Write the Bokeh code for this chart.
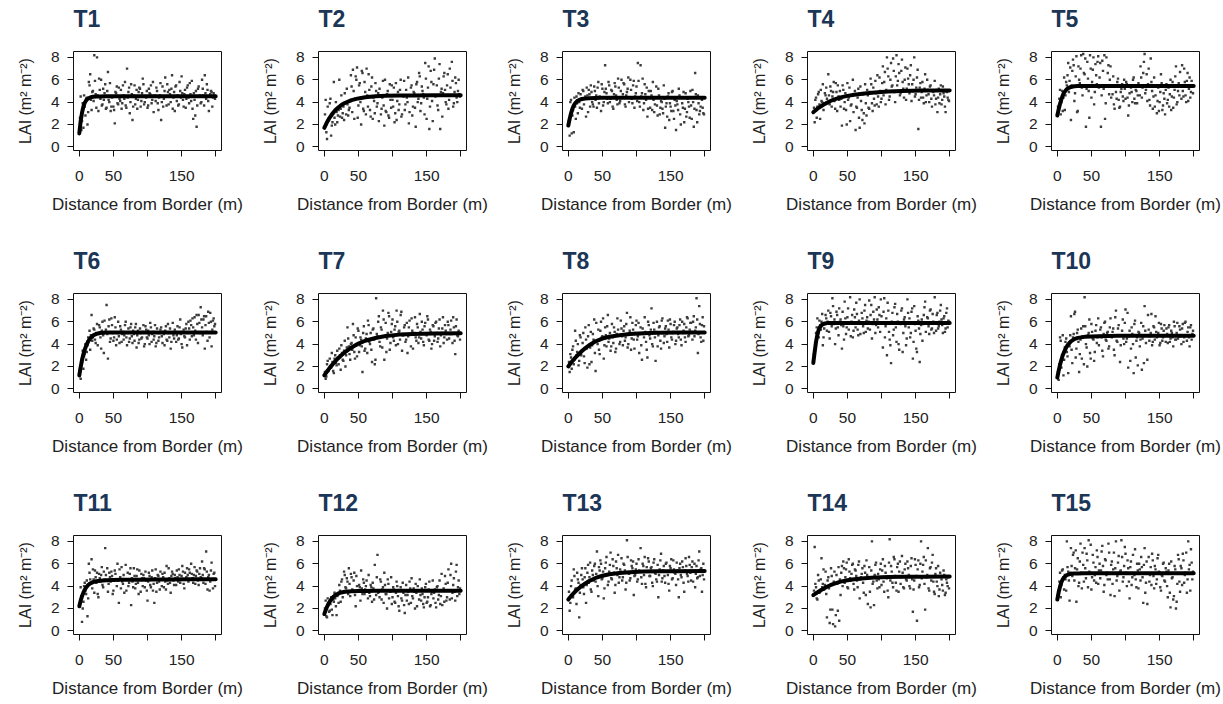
from bokeh.plotting import figure
from bokeh.layouts import gridplot
from bokeh.models import Range1d, FixedTicker, Title
from bokeh.embed import file_html
from bokeh.resources import INLINE

# ---------------- data ----------------
DIST = [0, 2, 4, 6, 8, 10, 12, 14, 16, 18, 20, 22, 24, 26, 28, 30, 32, 34, 36, 38,
        40, 42, 44, 46, 48, 50, 52, 54, 56, 58, 60, 62, 64, 66, 68, 70, 72, 74, 76, 78,
        80, 82, 84, 86, 88, 90, 92, 94, 96, 98, 100, 102, 104, 106, 108, 110, 112, 114, 116, 118,
        120, 122, 124, 126, 128, 130, 132, 134, 136, 138, 140, 142, 144, 146, 148, 150, 152, 154, 156, 158,
        160, 162, 164, 166, 168, 170, 172, 174, 176, 178, 180, 182, 184, 186, 188, 190, 192, 194, 196, 198]
DIST_B = [1, 3, 5, 7, 9, 11, 13, 15, 17, 19, 21, 23, 25, 27, 29, 31, 33, 35, 37, 39,
          41, 43, 45, 47, 49, 51, 53, 55, 57, 59, 61, 63, 65, 67, 69, 71, 73, 75, 77, 79,
          81, 83, 85, 87, 89, 91, 93, 95, 97, 99, 101, 103, 105, 107, 109, 111, 113, 115, 117, 119,
          121, 123, 125, 127, 129, 131, 133, 135, 137, 139, 141, 143, 145, 147, 149, 151, 153, 155, 157, 159,
          161, 163, 165, 167, 169, 171, 173, 175, 177, 179, 181, 183, 185, 187, 189, 191, 193, 195, 197, 199]

LAI_T1 = [1.3, 4.5, 2.3, 1.7, 3.6, 4.3, 2.0, 5.8, 6.5, 3.3, 5.0, 8.2, 4.7, 8.0, 3.2, 5.1, 6.0, 3.8, 4.2, 5.6,
          3.5, 6.7, 4.0, 3.2, 4.4, 3.6, 2.1, 4.8, 3.9, 5.3, 4.1, 3.4, 5.5, 4.3, 3.7, 7.0, 4.9, 3.0, 5.6, 2.4,
          4.6, 3.8, 5.1, 4.2, 5.3, 3.6, 4.8, 5.6, 4.0, 4.4, 3.5, 5.2, 4.7, 3.9, 5.8, 4.5, 4.1, 5.0, 3.3, 4.6,
          2.4, 5.4, 4.3, 6.2, 3.7, 4.9, 5.1, 4.0, 6.4, 4.4, 3.2, 5.5, 4.6, 3.8, 5.0, 6.3, 4.2, 4.7, 3.5, 5.3,
          4.4, 5.7, 4.1, 3.4, 4.8, 2.8, 1.8, 5.2, 4.5, 3.9, 6.0, 4.6, 6.4, 4.3, 5.1, 3.2, 4.7, 4.9, 4.4, 4.6]
LAI_T1_B = [2.6, 1.5, 3.9, 4.6, 2.8, 4.4, 3.1, 5.5, 4.2, 4.9, 4.1, 5.9, 3.5, 4.6, 6.1, 4.3, 3.7, 5.2, 4.8, 3.4,
            5.0, 4.2, 5.7, 3.6, 4.5, 3.3, 4.9, 5.4, 3.8, 4.3, 5.1, 3.9, 4.6, 5.8, 3.5, 4.4, 5.3, 4.0, 4.7, 3.6,
            5.5, 4.3, 3.4, 4.9, 5.2, 4.1, 6.1, 3.8, 4.5, 5.0, 3.7, 4.8, 5.5, 4.2, 3.1, 4.6, 5.3, 3.9, 4.4, 5.7,
            4.0, 3.6, 5.0, 4.5, 5.6, 3.8, 4.7, 5.2, 3.4, 4.9, 5.4, 4.1, 3.7, 5.8, 4.4, 4.8, 3.6, 5.1, 4.3, 5.5,
            3.9, 4.7, 5.9, 2.5, 4.2, 5.0, 3.7, 5.4, 4.6, 4.0, 5.2, 3.7, 4.8, 5.6, 4.1, 4.5, 5.0, 3.6, 4.8, 4.3]
LAI_T2 = [1.7, 4.2, 0.7, 2.5, 3.9, 1.0, 2.2, 5.8, 2.0, 3.1, 2.8, 6.0, 3.4, 2.6, 3.6, 4.8, 2.9, 3.8, 3.3, 4.1,
          5.4, 6.9, 2.5, 6.3, 7.1, 3.7, 5.7, 2.0, 6.6, 3.2, 4.9, 7.0, 3.6, 5.1, 2.7, 6.2, 4.4, 3.0, 5.0, 3.9,
          2.3, 4.5, 3.4, 5.9, 1.9, 3.2, 4.7, 2.8, 5.6, 3.5, 4.2, 5.3, 3.0, 2.4, 4.9, 3.8, 6.0, 2.9, 4.5, 3.3,
          5.1, 4.0, 2.1, 4.6, 5.5, 3.6, 4.8, 1.8, 5.8, 4.3, 6.3, 3.9, 5.0, 4.4, 7.5, 2.5, 5.3, 1.6, 6.8, 4.1,
          5.6, 7.9, 4.6, 3.7, 6.1, 1.6, 5.2, 4.8, 6.6, 4.0, 5.5, 3.4, 7.0, 4.6, 5.9, 3.9, 6.2, 4.4, 5.0, 4.7]
LAI_T2_B = [2.9, 1.3, 3.6, 2.4, 4.3, 1.9, 3.0, 2.6, 4.0, 2.2, 3.3, 2.7, 4.6, 3.0, 2.4, 3.9, 5.2, 2.8, 3.5, 6.4,
            3.1, 5.0, 4.3, 6.0, 2.6, 5.5, 4.0, 6.8, 3.4, 5.8, 2.9, 4.6, 6.5, 3.3, 5.4, 2.5, 4.1, 5.7, 3.6, 4.8,
            5.2, 2.9, 4.4, 3.7, 6.0, 3.1, 5.0, 2.6, 4.2, 5.5, 3.6, 2.2, 5.7, 4.1, 3.3, 5.1, 2.7, 4.6, 5.9, 3.8,
            4.4, 6.2, 3.1, 5.3, 2.8, 4.9, 3.5, 5.6, 4.0, 6.6, 3.2, 5.4, 4.7, 2.9, 6.1, 4.3, 7.2, 3.6, 5.8, 2.3,
            6.9, 4.5, 5.5, 3.3, 7.4, 4.9, 2.7, 6.3, 5.1, 3.8, 6.5, 4.2, 5.3, 7.6, 3.6, 4.9, 5.7, 4.0, 6.0, 4.5]
LAI_T3 = [1.9, 1.0, 4.2, 2.8, 1.3, 3.6, 4.5, 3.0, 4.0, 4.7, 3.4, 5.0, 4.3, 2.7, 4.6, 5.1, 3.6, 4.9, 3.8, 5.4,
          4.2, 3.5, 5.8, 4.5, 3.2, 5.2, 4.0, 7.3, 4.8, 3.9, 5.5, 4.3, 5.0, 3.4, 5.7, 4.6, 3.8, 5.3, 4.1, 6.0,
          4.7, 5.6, 3.6, 4.9, 6.2, 4.4, 5.1, 3.9, 5.9, 4.5, 5.4, 7.5, 4.0, 7.3, 4.8, 3.3, 5.6, 4.2, 2.7, 5.0,
          3.5, 4.6, 5.8, 3.1, 4.4, 3.7, 5.2, 2.9, 4.1, 3.4, 5.5, 1.7, 3.9, 4.5, 2.4, 3.6, 4.9, 3.2, 4.2, 1.5,
          3.8, 5.2, 2.9, 4.4, 3.5, 2.2, 4.8, 3.1, 4.0, 2.6, 3.7, 5.1, 1.8, 6.6, 3.3, 4.6, 2.9, 3.6, 4.2, 3.0]
LAI_T3_B = [2.3, 4.0, 1.2, 3.3, 4.4, 2.5, 3.9, 4.8, 3.5, 4.2, 5.1, 3.8, 4.5, 5.3, 3.1, 4.7, 5.5, 4.0, 3.6, 5.0,
            4.6, 5.3, 3.9, 4.4, 5.6, 3.7, 4.9, 5.2, 4.3, 5.8, 4.0, 5.1, 3.6, 4.7, 5.4, 4.2, 6.1, 3.9, 5.0, 4.4,
            5.7, 3.8, 4.6, 5.2, 4.0, 6.0, 4.3, 5.5, 3.5, 4.8, 4.1, 5.9, 3.6, 4.5, 6.1, 3.9, 4.7, 5.3, 3.4, 4.4,
            5.0, 3.3, 4.2, 3.8, 5.4, 2.8, 4.6, 3.5, 4.0, 3.0, 4.3, 3.6, 2.7, 4.8, 3.9, 3.2, 5.0, 2.5, 3.7, 4.1,
            3.3, 4.6, 2.0, 3.9, 4.9, 3.4, 2.7, 4.3, 3.6, 5.0, 2.5, 4.0, 3.4, 4.7, 2.2, 3.9, 3.2, 4.4, 3.5, 2.9]
LAI_T4 = [3.1, 2.2, 4.4, 3.6, 4.9, 2.5, 4.1, 5.6, 3.9, 4.6, 4.3, 6.5, 3.8, 5.0, 4.5, 5.8, 3.4, 4.9, 5.5, 4.2,
          3.6, 1.9, 5.1, 4.0, 3.3, 5.7, 4.4, 2.3, 3.8, 6.0, 4.7, 1.5, 3.5, 5.2, 1.7, 4.1, 2.4, 3.0, 5.6, 2.8,
          4.6, 3.4, 6.1, 3.9, 5.3, 3.7, 4.8, 6.4, 3.6, 5.0, 4.3, 7.2, 5.8, 3.8, 8.0, 6.3, 4.5, 7.5, 5.5, 6.8,
          4.0, 8.2, 5.9, 6.6, 4.8, 7.8, 5.2, 6.0, 4.2, 7.0, 5.6, 6.4, 4.1, 5.0, 8.0, 4.7, 6.2, 1.6, 5.3, 4.4,
          5.8, 3.9, 6.5, 4.6, 5.1, 4.0, 5.5, 3.6, 4.9, 5.9, 4.3, 3.1, 5.2, 4.7, 3.8, 5.4, 4.5, 3.1, 4.9, 4.2]
LAI_T4_B = [3.5, 4.2, 2.6, 4.7, 3.8, 5.1, 4.0, 3.3, 4.8, 5.3, 3.9, 4.6, 5.4, 3.6, 4.9, 4.1, 5.7, 3.2, 4.5, 5.0,
            4.3, 5.5, 3.4, 4.8, 2.0, 4.2, 5.3, 3.7, 4.6, 3.1, 5.0, 3.6, 4.4, 2.6, 5.4, 3.3, 4.7, 2.1, 3.9, 5.1,
            3.5, 4.9, 5.6, 3.2, 4.3, 5.9, 3.8, 4.5, 6.2, 4.0, 5.7, 4.6, 6.7, 5.1, 7.0, 4.2, 6.0, 5.4, 7.9, 4.9,
            6.3, 5.5, 7.4, 4.6, 6.8, 5.8, 4.4, 7.1, 5.2, 6.1, 4.8, 7.3, 5.6, 6.0, 4.5, 5.3, 6.9, 4.2, 5.7, 4.9,
            4.4, 5.2, 4.0, 6.0, 4.7, 5.4, 4.3, 5.0, 4.6, 3.8, 5.1, 4.4, 3.9, 5.5, 4.2, 4.8, 3.6, 5.0, 4.4, 4.1]
LAI_T5 = [2.8, 3.4, 5.1, 4.0, 3.2, 6.2, 4.6, 5.5, 7.5, 5.9, 2.4, 6.8, 7.3, 4.8, 8.1, 3.2, 6.0, 7.0, 5.3, 8.3,
          6.5, 1.8, 7.6, 5.0, 8.2, 4.4, 6.9, 3.8, 7.4, 5.6, 8.1, 6.2, 1.8, 7.7, 5.2, 2.5, 8.0, 6.6, 4.7, 7.2,
          5.5, 6.3, 3.4, 4.9, 5.8, 4.2, 3.6, 5.2, 4.5, 6.0, 4.3, 5.6, 2.8, 4.8, 5.3, 4.0, 6.2, 3.9, 5.0, 4.6,
          5.5, 7.2, 4.4, 6.6, 8.3, 5.1, 4.1, 7.0, 3.7, 5.8, 3.4, 6.2, 4.6, 3.0, 5.3, 4.0, 6.5, 3.3, 4.8, 2.9,
          5.6, 4.2, 3.6, 6.0, 4.5, 3.5, 5.1, 7.2, 4.0, 5.7, 6.7, 4.3, 5.0, 7.0, 4.6, 5.9, 4.1, 6.2, 4.9, 5.5]
LAI_T5_B = [3.6, 4.3, 2.9, 5.0, 4.4, 3.3, 5.8, 6.4, 4.9, 7.1, 5.5, 7.8, 4.1, 6.3, 3.1, 7.2, 5.7, 8.2, 4.6, 6.6,
            7.9, 5.2, 6.1, 2.6, 7.0, 5.8, 8.0, 4.9, 6.4, 7.6, 5.3, 7.5, 4.6, 6.8, 8.2, 3.9, 5.5, 7.3, 6.0, 4.4,
            4.7, 3.8, 5.4, 4.3, 6.1, 3.5, 4.9, 5.6, 4.1, 5.2, 5.8, 4.4, 3.7, 5.5, 4.9, 6.0, 4.3, 5.1, 3.9, 5.7,
            4.6, 6.2, 5.3, 7.6, 4.8, 6.5, 5.6, 4.2, 7.9, 5.0, 4.5, 3.6, 5.5, 4.1, 3.2, 4.9, 5.7, 3.7, 4.3, 5.1,
            3.9, 5.3, 4.7, 3.3, 5.8, 4.4, 6.3, 3.8, 5.0, 4.6, 5.4, 7.3, 4.5, 5.8, 4.0, 6.6, 5.2, 4.4, 5.9, 4.8]
LAI_T6 = [1.2, 0.9, 2.4, 1.8, 3.1, 2.6, 3.9, 4.4, 3.5, 6.6, 4.6, 5.3, 4.1, 5.8, 4.9, 5.5, 3.6, 6.0, 3.2, 5.1,
          7.5, 2.7, 6.2, 4.5, 5.7, 4.3, 6.4, 3.9, 5.0, 4.7, 5.6, 4.2, 5.1, 4.8, 6.0, 3.9, 5.4, 4.5, 5.8, 4.1,
          4.9, 5.5, 3.7, 5.2, 4.4, 5.0, 4.6, 5.7, 4.0, 5.3, 4.5, 4.8, 5.9, 4.2, 5.1, 4.7, 3.8, 5.4, 4.3, 5.0,
          5.5, 4.1, 4.9, 5.2, 4.4, 5.8, 4.6, 3.6, 5.0, 4.8, 5.3, 4.2, 5.6, 4.5, 6.2, 4.0, 5.1, 4.7, 5.4, 3.9,
          6.0, 4.4, 5.7, 6.3, 4.8, 5.2, 6.6, 4.1, 5.9, 7.3, 5.5, 6.2, 3.6, 6.5, 4.3, 5.9, 6.8, 3.8, 6.1, 5.6]
LAI_T6_B = [1.7, 2.1, 3.4, 2.9, 4.0, 3.3, 4.6, 5.2, 4.8, 4.3, 5.4, 4.4, 5.0, 3.9, 5.7, 4.6, 5.2, 4.8, 6.1, 5.3,
            4.9, 5.6, 4.2, 6.3, 5.0, 4.6, 5.5, 4.4, 6.0, 4.1, 5.3, 4.9, 4.4, 5.7, 4.6, 5.0, 4.2, 5.5, 4.7, 5.2,
            4.3, 5.8, 4.8, 4.1, 5.4, 4.5, 5.1, 3.8, 5.6, 4.6, 5.2, 4.0, 5.5, 4.9, 4.4, 5.7, 4.1, 5.0, 4.6, 5.3,
            4.7, 5.1, 3.9, 5.6, 4.3, 5.0, 5.4, 4.2, 5.9, 4.5, 5.1, 4.8, 4.4, 5.5, 4.9, 3.7, 5.3, 4.6, 5.8, 5.0,
            5.4, 6.1, 4.7, 5.5, 6.4, 4.4, 5.8, 6.6, 5.0, 6.2, 4.8, 6.5, 5.7, 5.1, 6.9, 4.6, 6.0, 5.3, 6.3, 5.8]
LAI_T7 = [1.2, 0.9, 2.2, 1.6, 2.7, 1.9, 2.4, 1.4, 3.0, 2.1, 2.8, 3.6, 1.7, 3.2, 2.5, 4.3, 3.0, 5.5, 3.8, 2.6,
          4.1, 5.8, 3.3, 4.6, 2.9, 5.2, 3.9, 4.4, 1.5, 5.6, 3.6, 4.9, 6.1, 4.2, 5.0, 2.4, 5.4, 2.2, 8.1, 4.7,
          6.5, 3.8, 5.3, 7.0, 2.6, 5.9, 4.5, 6.8, 3.5, 5.1, 6.2, 4.3, 5.6, 7.0, 4.0, 5.2, 6.6, 3.4, 4.8, 5.7,
          4.4, 3.2, 5.5, 4.9, 6.3, 3.6, 5.0, 4.6, 5.8, 4.1, 6.7, 4.5, 5.3, 3.9, 5.9, 4.8, 6.2, 4.3, 5.1, 4.0,
          5.6, 4.7, 6.0, 4.2, 5.4, 3.8, 5.0, 6.4, 4.6, 5.2, 4.4, 5.7, 4.9, 6.1, 4.1, 5.5, 3.1, 6.2, 4.7, 5.0]
LAI_T7_B = [1.5, 1.1, 2.5, 1.8, 2.0, 3.2, 1.6, 2.7, 2.3, 3.4, 2.2, 3.0, 3.9, 2.6, 3.4, 2.0, 3.7, 4.5, 3.1, 4.0,
            3.5, 4.8, 2.7, 3.9, 5.4, 3.3, 4.6, 3.8, 5.0, 3.4, 4.5, 3.2, 5.7, 4.0, 3.5, 5.3, 4.4, 2.6, 4.9, 6.0,
            4.2, 5.5, 3.7, 6.2, 4.7, 3.3, 5.0, 6.5, 4.1, 5.8, 4.6, 5.3, 3.9, 6.0, 5.1, 4.4, 6.9, 4.8, 5.5, 4.2,
            5.9, 4.7, 6.1, 3.8, 5.2, 4.9, 6.4, 4.3, 5.5, 4.6, 5.1, 6.0, 4.2, 5.6, 4.9, 6.5, 4.4, 5.3, 3.6, 5.7,
            4.3, 5.9, 5.0, 4.5, 6.2, 4.8, 5.4, 4.1, 5.7, 4.9, 6.0, 4.5, 5.3, 4.9, 6.4, 4.3, 5.6, 4.8, 5.2, 4.4]
LAI_T8 = [2.0, 1.5, 2.8, 3.5, 2.2, 5.2, 3.0, 4.0, 2.5, 4.6, 3.4, 5.0, 2.3, 4.4, 1.9, 5.7, 3.7, 2.4, 4.9, 6.2,
          1.6, 4.3, 5.3, 3.1, 6.0, 4.7, 2.7, 5.5, 3.8, 6.6, 4.5, 3.4, 5.8, 4.1, 5.1, 3.6, 6.3, 4.8, 4.2, 5.4,
          3.9, 5.6, 4.6, 6.8, 4.0, 5.2, 3.5, 5.9, 4.4, 5.0, 6.1, 4.7, 3.2, 5.5, 2.6, 4.9, 6.4, 4.2, 2.8, 5.7,
          4.5, 7.2, 3.8, 5.3, 2.5, 6.0, 4.8, 5.6, 3.6, 6.3, 4.1, 5.4, 4.9, 6.1, 3.7, 5.8, 4.4, 5.1, 6.0, 4.3,
          5.5, 4.6, 6.2, 3.9, 5.0, 5.8, 4.2, 6.4, 4.7, 5.3, 5.9, 4.4, 6.5, 5.2, 8.1, 3.2, 7.4, 4.6, 5.7, 4.3]
LAI_T8_B = [2.4, 3.1, 1.8, 3.8, 2.6, 4.3, 3.3, 2.1, 4.8, 3.0, 4.1, 2.9, 5.5, 3.6, 4.7, 2.2, 5.1, 3.9, 4.4, 3.2,
            5.9, 4.0, 3.5, 5.2, 4.6, 6.3, 3.9, 4.8, 5.6, 4.2, 5.0, 3.8, 4.6, 5.5, 3.3, 4.9, 5.3, 4.0, 6.1, 4.7,
            5.2, 4.3, 5.8, 3.7, 4.9, 6.4, 4.5, 5.3, 3.6, 5.7, 4.4, 5.9, 4.9, 3.9, 5.4, 4.6, 5.1, 3.5, 6.0, 4.8,
            5.3, 4.0, 5.9, 4.6, 5.1, 3.8, 5.5, 4.3, 6.1, 5.0, 4.7, 5.6, 4.2, 5.3, 6.2, 4.6, 5.0, 5.7, 4.0, 5.4,
            4.9, 5.7, 4.4, 6.0, 5.2, 4.6, 5.5, 6.3, 4.8, 5.9, 5.1, 6.0, 4.7, 5.5, 6.2, 4.9, 5.8, 4.2, 6.4, 5.6]
LAI_T9 = [2.5, 2.9, 5.0, 6.3, 4.6, 5.7, 6.0, 3.9, 5.4, 6.6, 5.2, 7.0, 4.5, 6.5, 8.1, 5.8, 4.0, 6.9, 5.5, 7.2,
          6.2, 3.6, 5.6, 7.8, 4.9, 6.4, 5.3, 8.2, 6.0, 4.6, 7.1, 5.5, 6.7, 4.8, 8.0, 5.9, 6.3, 5.0, 7.5, 6.1,
          5.4, 7.9, 6.6, 4.5, 6.9, 8.2, 5.7, 6.2, 7.3, 5.1, 6.5, 3.7, 8.1, 5.6, 3.0, 7.0, 4.4, 2.3, 6.8, 5.3,
          7.6, 4.2, 6.0, 3.5, 5.8, 7.2, 5.0, 6.4, 3.9, 8.0, 5.5, 4.6, 6.9, 2.7, 7.4, 5.2, 3.3, 6.1, 2.4, 5.7,
          4.3, 6.6, 7.8, 5.9, 6.3, 4.9, 7.1, 5.4, 6.0, 8.2, 5.2, 6.8, 5.6, 7.0, 6.2, 5.0, 6.5, 5.4, 7.2, 6.1]
LAI_T9_B = [3.1, 4.0, 5.5, 4.9, 6.1, 5.3, 6.7, 4.6, 5.9, 6.3, 6.0, 5.1, 6.8, 5.6, 7.4, 6.2, 5.4, 6.6, 4.8, 6.0,
            5.7, 6.9, 4.4, 6.3, 5.5, 7.2, 5.9, 4.7, 6.6, 5.2, 6.4, 7.7, 5.3, 6.1, 4.9, 6.8, 5.6, 7.0, 5.1, 6.4,
            6.0, 5.3, 7.5, 5.8, 6.2, 5.0, 7.1, 5.5, 6.6, 8.0, 5.9, 6.9, 4.6, 6.3, 7.7, 5.1, 3.9, 6.0, 4.8, 7.3,
            5.5, 6.7, 4.0, 5.9, 7.0, 3.3, 6.2, 5.6, 4.5, 6.8, 6.3, 5.0, 7.2, 4.2, 5.8, 3.6, 6.5, 5.4, 4.9, 6.2,
            5.8, 7.3, 5.1, 6.4, 5.6, 7.0, 5.3, 6.7, 5.0, 5.9, 6.6, 5.4, 6.0, 7.5, 5.7, 6.3, 5.1, 6.8, 5.5, 6.0]
LAI_T10 = [1.0, 0.8, 4.6, 1.9, 4.8, 2.6, 4.2, 3.3, 1.4, 3.8, 6.5, 2.3, 4.9, 6.9, 3.6, 5.3, 1.5, 4.4, 2.7, 5.6,
           8.2, 4.0, 2.0, 5.0, 3.2, 5.8, 4.5, 2.5, 5.2, 4.1, 6.3, 4.7, 5.5, 3.4, 4.9, 6.0, 4.3, 5.1, 3.8, 6.3,
           4.6, 5.4, 3.0, 7.0, 4.2, 5.7, 2.4, 4.8, 6.2, 4.0, 7.1, 4.5, 1.9, 5.2, 3.6, 4.9, 1.4, 6.1, 4.3, 2.1,
           5.0, 4.4, 1.7, 5.6, 7.4, 4.1, 2.6, 5.3, 4.7, 6.7, 4.2, 5.5, 6.5, 4.6, 5.0, 3.9, 5.8, 4.3, 5.2, 4.8,
           5.4, 4.1, 5.7, 4.5, 5.0, 3.8, 5.6, 4.4, 5.9, 4.7, 5.3, 4.0, 5.8, 4.6, 6.0, 4.3, 5.5, 3.8, 5.7, 4.9]
LAI_T10_B = [1.5, 2.2, 4.3, 3.0, 1.2, 3.7, 4.5, 2.9, 4.0, 4.8, 3.5, 4.6, 6.7, 2.8, 5.0, 4.2, 3.1, 5.4, 4.7, 2.2,
             5.6, 3.7, 4.8, 6.2, 2.7, 5.1, 4.4, 3.3, 5.7, 4.6, 3.9, 5.3, 4.6, 2.9, 5.9, 4.4, 5.0, 3.6, 5.5, 4.8,
             5.1, 3.5, 6.4, 4.3, 5.4, 4.8, 3.9, 5.2, 4.5, 5.9, 4.2, 6.8, 4.7, 2.5, 5.5, 4.0, 5.8, 2.8, 4.6, 5.1,
             3.8, 5.9, 4.5, 2.3, 5.2, 4.8, 6.6, 4.3, 5.0, 3.9, 5.6, 4.4, 5.1, 4.7, 5.9, 4.1, 5.4, 4.6, 5.7, 4.2,
             4.9, 5.5, 4.2, 5.2, 4.6, 6.0, 4.4, 5.0, 4.5, 5.6, 4.7, 5.4, 4.2, 5.9, 4.8, 5.1, 4.6, 5.5, 4.4, 5.2]
LAI_T11 = [2.2, 3.9, 0.8, 2.6, 4.3, 3.3, 1.3, 6.0, 4.6, 6.4, 5.5, 3.4, 4.8, 5.2, 3.0, 4.7, 5.0, 4.1, 5.3, 7.4,
           4.5, 3.5, 5.2, 4.4, 4.9, 3.6, 5.4, 4.6, 6.0, 2.5, 4.8, 5.7, 4.2, 3.4, 5.9, 4.6, 4.0, 5.1, 2.3, 4.4,
           5.6, 3.8, 4.9, 4.3, 5.4, 3.5, 4.7, 5.0, 3.9, 4.5, 2.7, 5.2, 4.1, 4.8, 3.6, 2.5, 5.5, 4.3, 4.9, 3.7,
           4.6, 5.1, 3.9, 4.4, 5.8, 4.2, 4.7, 3.4, 5.3, 4.5, 5.0, 4.1, 4.8, 5.5, 4.3, 4.9, 5.3, 3.8, 4.6, 5.6,
           4.4, 5.2, 6.0, 4.7, 5.0, 4.2, 5.4, 4.5, 5.1, 4.8, 6.2, 4.3, 5.5, 7.1, 3.7, 5.0, 4.4, 6.1, 3.8, 5.2]
LAI_T11_B = [2.5, 3.1, 2.0, 4.0, 3.6, 4.5, 2.9, 5.2, 4.2, 3.8, 4.6, 5.4, 4.3, 3.3, 5.1, 4.4, 5.7, 3.9, 4.6, 5.0,
             5.6, 4.2, 4.8, 5.3, 3.3, 4.6, 5.1, 4.0, 4.5, 5.5, 3.8, 4.4, 5.0, 4.6, 3.6, 5.2, 4.3, 5.6, 4.7, 3.9,
             4.9, 4.2, 5.5, 3.3, 4.6, 5.1, 4.0, 4.7, 5.3, 3.6, 4.4, 4.9, 3.9, 5.4, 4.2, 4.7, 3.5, 5.0, 4.4, 5.3,
             4.0, 4.8, 5.2, 3.7, 4.5, 5.6, 4.3, 4.9, 5.1, 4.1, 4.7, 5.4, 4.4, 5.0, 4.6, 5.8, 4.2, 5.2, 4.8, 5.0,
             5.5, 4.6, 5.1, 4.3, 5.7, 4.9, 5.3, 4.1, 5.6, 4.7, 5.0, 5.6, 4.2, 5.3, 4.8, 3.6, 5.4, 4.6, 5.1, 4.0]
LAI_T12 = [1.5, 2.7, 1.2, 2.3, 1.8, 3.0, 1.4, 2.6, 2.9, 1.4, 3.2, 4.1, 2.6, 4.6, 3.4, 5.0, 3.8, 4.4, 5.6, 3.1,
           4.8, 3.6, 5.2, 2.2, 4.0, 3.5, 3.9, 5.4, 3.3, 4.3, 3.7, 4.5, 2.9, 3.4, 4.1, 2.6, 3.8, 5.9, 3.2, 6.8,
           3.5, 4.6, 2.8, 3.9, 5.2, 3.3, 2.0, 4.2, 3.6, 4.8, 3.0, 3.7, 2.5, 4.4, 3.1, 1.8, 3.9, 2.7, 3.4, 1.6,
           4.1, 3.2, 2.4, 3.8, 4.7, 2.9, 3.5, 4.2, 2.2, 3.6, 4.6, 2.7, 3.3, 2.1, 3.9, 2.5, 3.0, 4.4, 2.3, 3.5,
           2.9, 3.7, 2.1, 4.0, 3.2, 2.4, 5.1, 3.6, 2.6, 4.2, 3.0, 5.5, 2.8, 6.0, 3.4, 4.7, 2.7, 5.9, 3.9, 3.3]
LAI_T12_B = [2.0, 1.3, 2.9, 1.7, 2.4, 1.9, 2.8, 3.4, 2.2, 3.1, 2.5, 3.6, 4.4, 3.0, 5.3, 3.9, 4.7, 3.3, 4.2, 5.1,
             3.7, 4.5, 3.2, 4.9, 3.5, 4.1, 2.7, 3.8, 4.6, 3.3, 4.0, 3.5, 5.0, 3.1, 3.9, 4.3, 2.8, 3.6, 4.8, 3.4,
             3.0, 4.4, 3.7, 2.5, 4.1, 3.3, 4.6, 2.9, 3.5, 2.4, 3.9, 2.6, 3.4, 4.0, 2.2, 3.6, 2.9, 4.3, 2.3, 3.2,
             2.7, 3.5, 4.4, 2.5, 3.1, 3.8, 2.0, 3.4, 4.0, 2.8, 3.2, 3.8, 2.4, 3.0, 4.2, 2.6, 3.7, 2.2, 3.3, 4.5,
             3.4, 2.5, 3.9, 2.8, 4.5, 3.1, 2.3, 3.8, 4.9, 2.7, 4.3, 3.6, 5.0, 2.9, 4.1, 3.5, 5.3, 3.1, 4.5, 3.8]
LAI_T13 = [2.8, 1.8, 4.0, 3.2, 5.5, 3.7, 2.4, 4.6, 1.2, 4.1, 5.6, 3.9, 4.8, 2.5, 5.2, 4.3, 6.1, 3.5, 5.0, 5.8,
           4.4, 7.1, 3.1, 5.4, 6.0, 4.7, 2.9, 5.6, 6.6, 4.1, 5.3, 7.0, 4.6, 5.8, 3.4, 6.2, 5.0, 4.3, 5.5, 6.5,
           4.8, 5.9, 3.7, 8.1, 5.2, 4.5, 6.3, 5.6, 3.2, 5.0, 6.0, 4.6, 5.4, 7.4, 4.2, 5.8, 6.6, 3.9, 5.3, 6.2,
           4.9, 5.7, 4.0, 6.4, 5.1, 4.4, 3.0, 5.5, 6.9, 4.7, 5.8, 4.3, 6.1, 5.0, 3.6, 5.6, 4.6, 6.3, 5.2, 4.1,
           5.4, 3.0, 6.0, 4.8, 5.7, 3.5, 6.5, 5.1, 4.4, 5.9, 4.5, 6.2, 5.3, 3.9, 5.8, 4.8, 7.1, 5.5, 3.5, 6.0]
LAI_T13_B = [3.5, 2.5, 4.5, 3.0, 4.9, 3.8, 5.2, 4.3, 3.4, 5.0, 4.6, 3.3, 5.6, 4.1, 5.9, 4.8, 3.7, 5.4, 4.5, 6.0,
             5.1, 4.0, 5.7, 6.3, 4.6, 5.3, 3.8, 6.1, 5.0, 4.4, 5.9, 4.7, 6.4, 5.2, 4.1, 5.6, 6.8, 4.8, 5.3, 4.5,
             6.0, 5.4, 4.3, 6.6, 5.1, 4.7, 5.8, 6.2, 4.9, 5.5, 4.4, 6.4, 5.3, 4.8, 6.0, 5.0, 4.2, 5.7, 6.5, 4.9,
             5.6, 4.3, 6.1, 5.2, 4.6, 5.9, 5.0, 6.3, 4.4, 5.4, 4.9, 6.0, 5.3, 4.2, 5.8, 6.4, 4.7, 5.5, 5.1, 6.1,
             4.6, 5.6, 5.0, 6.2, 4.3, 5.4, 5.8, 4.9, 6.6, 5.2, 5.7, 4.4, 6.0, 5.1, 4.7, 6.3, 4.9, 5.6, 5.0, 4.6]
LAI_T14 = [3.2, 7.5, 3.9, 2.8, 4.5, 3.5, 6.5, 4.2, 3.7, 5.3, 1.2, 4.8, 0.7, 5.6, 1.9, 4.4, 0.4, 5.0, 1.8, 0.9,
           3.2, 5.8, 6.2, 4.3, 5.5, 3.9, 6.4, 4.7, 5.1, 6.0, 3.7, 5.4, 4.5, 5.9, 2.9, 4.8, 5.6, 3.4, 5.2, 6.3,
           2.4, 5.7, 2.1, 8.0, 4.4, 5.0, 6.1, 3.8, 4.6, 5.5, 4.1, 6.4, 3.5, 5.2, 4.7, 3.0, 8.2, 5.8, 4.3, 6.6,
           4.9, 3.6, 6.0, 5.3, 4.2, 6.7, 3.9, 5.5, 4.6, 6.2, 5.0, 3.8, 6.5, 1.7, 4.5, 5.9, 0.9, 6.3, 4.1, 8.0,
           5.3, 6.6, 1.9, 4.8, 7.4, 3.6, 5.7, 6.1, 4.4, 3.3, 5.6, 4.0, 3.1, 5.2, 4.6, 3.6, 5.0, 3.4, 4.3, 4.8]
LAI_T14_B = [3.6, 4.2, 2.9, 5.0, 3.4, 4.6, 3.9, 5.5, 4.1, 3.3, 4.5, 3.8, 1.9, 4.9, 0.6, 5.3, 1.4, 4.2, 5.7, 4.6,
             5.2, 4.0, 5.6, 4.8, 6.1, 3.8, 5.3, 4.5, 5.9, 4.2, 5.5, 4.9, 3.9, 6.2, 4.6, 5.1, 4.3, 5.8, 3.2, 5.0,
             4.7, 3.5, 5.4, 4.2, 2.3, 5.9, 4.5, 5.1, 3.9, 6.0, 5.4, 4.4, 5.8, 4.8, 3.6, 6.1, 4.5, 5.3, 3.9, 6.4,
             4.3, 5.7, 3.5, 6.2, 4.8, 5.2, 3.8, 6.0, 4.5, 5.6, 4.0, 5.8, 4.6, 3.7, 6.4, 4.9, 5.5, 3.9, 6.0, 4.7,
             5.9, 4.2, 6.3, 5.0, 3.8, 5.6, 4.5, 6.8, 3.5, 5.1, 4.4, 5.8, 3.7, 4.9, 4.1, 5.4, 3.2, 4.6, 4.0, 3.8]
LAI_T15 = [2.8, 3.5, 5.2, 4.1, 5.5, 3.7, 4.6, 8.0, 5.3, 2.7, 7.4, 4.9, 7.0, 5.6, 2.6, 6.5, 4.3, 7.8, 3.8, 5.9,
           7.4, 4.7, 6.3, 8.1, 5.1, 3.7, 6.8, 4.5, 5.7, 7.2, 4.2, 6.0, 5.4, 7.6, 3.5, 6.4, 5.0, 4.6, 7.0, 3.2,
           6.2, 5.5, 3.1, 8.0, 4.9, 6.7, 5.3, 8.1, 4.4, 5.8, 6.9, 4.0, 5.6, 2.9, 6.2, 4.8, 5.1, 7.3, 3.9, 5.4,
           6.0, 4.5, 5.7, 2.5, 7.4, 4.3, 2.4, 6.6, 5.0, 4.1, 6.3, 3.8, 5.5, 4.6, 6.8, 5.2, 3.6, 4.9, 6.1, 4.4,
           5.3, 3.0, 6.0, 2.1, 4.7, 2.8, 5.8, 2.0, 4.2, 6.4, 3.5, 5.6, 6.9, 4.3, 5.2, 3.4, 8.0, 5.9, 7.3, 4.6]
LAI_T15_B = [3.2, 4.4, 3.0, 5.4, 4.8, 5.0, 3.6, 5.7, 4.5, 5.2, 5.8, 6.8, 4.5, 7.2, 5.5, 4.0, 6.2, 5.2, 7.0, 4.4,
             5.6, 6.9, 3.9, 5.3, 7.7, 4.8, 6.1, 5.0, 4.3, 6.6, 5.4, 4.7, 7.1, 5.8, 4.1, 6.3, 5.2, 7.8, 4.6, 5.9,
             4.2, 7.0, 5.6, 4.5, 6.1, 3.6, 5.4, 6.6, 4.8, 7.5, 5.2, 6.3, 4.4, 5.7, 4.1, 6.8, 5.0, 4.6, 6.0, 3.8,
             5.5, 6.6, 4.8, 5.9, 3.4, 6.2, 5.1, 4.4, 5.7, 6.9, 4.9, 5.8, 4.2, 6.5, 5.3, 3.9, 5.0, 6.0, 4.5, 5.6,
             4.0, 5.4, 3.4, 6.2, 4.8, 3.1, 5.5, 2.6, 6.8, 4.4, 5.8, 4.1, 6.3, 5.0, 7.0, 4.6, 5.5, 3.6, 6.1, 5.3]

# fitted curves at these distances
FIT_DIST = [0, 2, 4, 6, 8, 10, 13, 16, 20, 25, 30, 40, 50, 60, 75, 90, 110, 130, 160, 200]
FIT_T1 = [1.2, 2.3, 3.05, 3.6, 3.95, 4.15, 4.33, 4.42, 4.48, 4.5, 4.51, 4.52, 4.52, 4.52, 4.52, 4.52, 4.52, 4.52, 4.52, 4.52]
FIT_T2 = [1.7, 1.95, 2.2, 2.42, 2.62, 2.8, 3.05, 3.27, 3.5, 3.74, 3.92, 4.18, 4.33, 4.43, 4.52, 4.56, 4.59, 4.6, 4.61, 4.62]
FIT_T3 = [1.9, 2.5, 3.0, 3.4, 3.7, 3.9, 4.1, 4.2, 4.28, 4.33, 4.35, 4.37, 4.38, 4.38, 4.38, 4.38, 4.38, 4.38, 4.38, 4.38]
FIT_T4 = [3.1, 3.2, 3.3, 3.4, 3.5, 3.58, 3.7, 3.8, 3.95, 4.1, 4.22, 4.42, 4.56, 4.66, 4.78, 4.87, 4.95, 4.99, 5.03, 5.05]
FIT_T5 = [2.8, 3.35, 3.85, 4.25, 4.6, 4.85, 5.1, 5.25, 5.36, 5.42, 5.44, 5.45, 5.45, 5.45, 5.45, 5.45, 5.45, 5.45, 5.45, 5.45]
FIT_T6 = [1.2, 1.95, 2.6, 3.1, 3.5, 3.85, 4.25, 4.52, 4.77, 4.92, 4.99, 5.04, 5.05, 5.05, 5.05, 5.05, 5.05, 5.05, 5.05, 5.05]
FIT_T7 = [1.2, 1.38, 1.55, 1.72, 1.88, 2.03, 2.25, 2.45, 2.72, 3.0, 3.27, 3.7, 4.05, 4.3, 4.55, 4.72, 4.85, 4.91, 4.95, 4.97]
FIT_T8 = [2.0, 2.17, 2.33, 2.48, 2.62, 2.76, 2.96, 3.14, 3.38, 3.64, 3.88, 4.25, 4.5, 4.66, 4.8, 4.9, 4.97, 5.01, 5.04, 5.05]
FIT_T9 = [2.3, 3.3, 4.2, 4.85, 5.3, 5.55, 5.75, 5.83, 5.88, 5.9, 5.9, 5.9, 5.9, 5.9, 5.9, 5.9, 5.9, 5.9, 5.9, 5.9]
FIT_T10 = [1.0, 1.6, 2.15, 2.6, 3.0, 3.3, 3.7, 3.98, 4.25, 4.45, 4.56, 4.65, 4.69, 4.71, 4.73, 4.74, 4.75, 4.75, 4.75, 4.75]
FIT_T11 = [2.2, 2.7, 3.1, 3.42, 3.68, 3.88, 4.1, 4.24, 4.36, 4.44, 4.48, 4.52, 4.54, 4.56, 4.57, 4.58, 4.59, 4.6, 4.61, 4.62]
FIT_T12 = [1.5, 1.85, 2.15, 2.4, 2.62, 2.8, 3.02, 3.18, 3.32, 3.43, 3.49, 3.54, 3.56, 3.57, 3.58, 3.58, 3.58, 3.58, 3.58, 3.58]
FIT_T13 = [2.8, 2.95, 3.1, 3.24, 3.37, 3.5, 3.68, 3.84, 4.02, 4.24, 4.43, 4.73, 4.93, 5.06, 5.18, 5.25, 5.3, 5.32, 5.34, 5.35]
FIT_T14 = [3.2, 3.28, 3.36, 3.44, 3.52, 3.6, 3.7, 3.8, 3.94, 4.08, 4.2, 4.4, 4.53, 4.62, 4.71, 4.77, 4.81, 4.83, 4.84, 4.85]
FIT_T15 = [2.8, 3.45, 3.95, 4.35, 4.6, 4.78, 4.95, 5.04, 5.1, 5.13, 5.14, 5.15, 5.15, 5.15, 5.15, 5.15, 5.15, 5.15, 5.15, 5.15]

TITLES = ["T1", "T2", "T3", "T4", "T5", "T6", "T7", "T8", "T9", "T10", "T11", "T12", "T13", "T14", "T15"]
SCATTER_A = [LAI_T1, LAI_T2, LAI_T3, LAI_T4, LAI_T5, LAI_T6, LAI_T7, LAI_T8, LAI_T9, LAI_T10,
             LAI_T11, LAI_T12, LAI_T13, LAI_T14, LAI_T15]
SCATTER_B = [LAI_T1_B, LAI_T2_B, LAI_T3_B, LAI_T4_B, LAI_T5_B, LAI_T6_B, LAI_T7_B, LAI_T8_B, LAI_T9_B,
             LAI_T10_B, LAI_T11_B, LAI_T12_B, LAI_T13_B, LAI_T14_B, LAI_T15_B]
FITS = [FIT_T1, FIT_T2, FIT_T3, FIT_T4, FIT_T5, FIT_T6, FIT_T7, FIT_T8, FIT_T9, FIT_T10,
        FIT_T11, FIT_T12, FIT_T13, FIT_T14, FIT_T15]

X_TICKS = [0, 50, 100, 150, 200]
X_TICK_LABELS = {0: "0", 50: "50", 100: "", 150: "150", 200: ""}
Y_TICKS = [0, 2, 4, 6, 8]
X_LABEL = "Distance from Border (m)"
Y_LABEL = "LAI (m\u00b2 m\u207b\u00b2)"

# ---------------- layout ----------------
COL_W = [245, 244, 245, 244, 245]
ROW_H = [242, 242, 220]
FONT = "Liberation Sans"
TEXT = "#222222"

rows = []
for r in range(3):
    row_figs = []
    for c in range(5):
        k = r * 5 + c
        w, h = COL_W[c], ROW_H[r]
        p = figure(width=w, height=h, output_backend="svg", toolbar_location=None,
                   x_range=Range1d(-8.5, 208.5), y_range=Range1d(-0.33, 8.53),
                   min_border_left=73, min_border_right=w - 221,
                   min_border_top=51, min_border_bottom=h - 150)

        # empty spacer panel between frame and title, then the panel title itself
        p.add_layout(Title(text=" ", text_font_size="1px", standoff=15), "above")
        p.add_layout(Title(text=TITLES[k], text_font=FONT, text_font_size="23px",
                           text_font_style="bold", text_color="#1b3656",
                           align="left", vertical_align="top", standoff=0, offset=0),
                     "above")

        p.xgrid.visible = False
        p.ygrid.visible = False
        p.outline_line_color = "#111111"
        p.outline_line_width = 1
        p.background_fill_color = "white"
        p.border_fill_color = "white"

        for ax in (p.xaxis[0], p.yaxis[0]):
            ax.major_tick_in = 0
            ax.major_tick_out = 6
            ax.minor_tick_line_color = None
            ax.axis_line_color = "#111111"
            ax.major_tick_line_color = "#111111"
            ax.major_label_text_font = FONT
            ax.major_label_text_font_size = "15.5px"
            ax.major_label_text_color = TEXT
            ax.axis_label_text_font = FONT
            ax.axis_label_text_font_style = "normal"
            ax.axis_label_text_color = TEXT

        p.xaxis.ticker = FixedTicker(ticks=X_TICKS)
        p.xaxis.major_label_overrides = X_TICK_LABELS
        p.xaxis.bounds = (0, 200)
        p.xaxis.axis_label = X_LABEL
        p.xaxis.axis_label_text_font_size = "17px"
        p.xaxis.major_label_standoff = 14
        p.xaxis.axis_label_standoff = 11

        p.yaxis.ticker = FixedTicker(ticks=Y_TICKS)
        p.yaxis.bounds = (0, 8)
        p.yaxis.axis_label = Y_LABEL
        p.yaxis.axis_label_text_font_size = "16px"
        p.yaxis.major_label_standoff = 8
        p.yaxis.axis_label_standoff = 14

        p.scatter(DIST, SCATTER_A[k], marker="square", size=2.4,
                  fill_color="#3c3c3c", line_color=None)
        p.scatter(DIST_B, SCATTER_B[k], marker="square", size=2.4,
                  fill_color="#3c3c3c", line_color=None)
        p.line(FIT_DIST, FITS[k], line_width=4, color="black",
               line_join="round", line_cap="round")
        row_figs.append(p)
    rows.append(row_figs)

grid = gridplot(rows, toolbar_location=None)

open("out.html", "w").write(file_html(grid, INLINE))
